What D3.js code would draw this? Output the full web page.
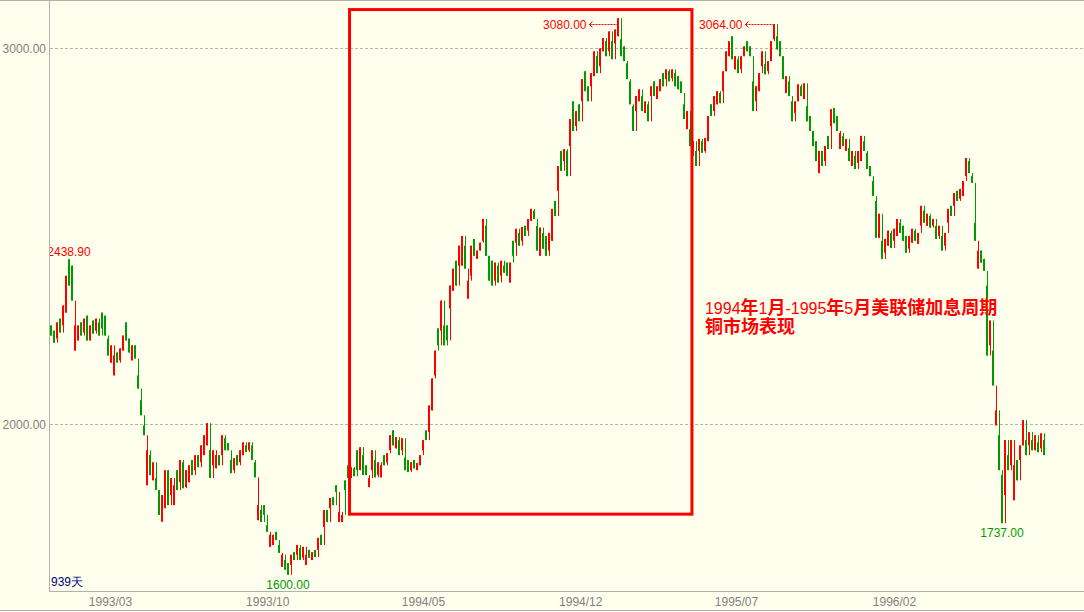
<!DOCTYPE html>
<html>
<head>
<meta charset="utf-8">
<script src="https://cdn.jsdelivr.net/npm/d3@7"></script>
<style>
    body { margin: 0; background: #ffffee; }
    svg { display: block; }
    .axis text { font-family: "Liberation Sans", Arial, sans-serif; font-size: 12px; fill: #808080; }
    .mark { font-family: "Liberation Sans", Arial, sans-serif; font-size: 12px; }
</style>
</head>
<body>
<div id="vis"></div>
<script>

// daily copper prices, sampled (open / close per bar)
var opens = [
    2263,2249,2228,2281,2263,2297,2438.9,2422,2196,2223,
    2271,2244,2289,2223,2276,2249,2271,2297,2289,2228,
    2164,2130,2191,2170,2196,2271,2228,2170,2210,2130,
    2064,1997,1838,1918,1851,1857,1825,1741,1777,1878,
    1812,1785,1878,1846,1899,1833,1846,1905,1878,1918,
    1899,1918,1944,1931,1891,1883,1918,1918,1963,1950,
    1905,1878,1918,1899,1918,1944,1931,1944,1899,1745,
    1772,1785,1732,1674,1679,1714,1679,1621,1639,1631,
    1626,1660,1653,1671,1645,1626,1666,1639,1666,1666,
    1706,1727,1772,1777,1806,1838,1740,1740,1851,1891,
    1859,1883,1931,1878,1918,1891,1833,1878,1905,1865,
    1859,1918,1899,1931,1984,1936,1958,1931,1912,1905,
    1878,1905,1878,1891,1931,1984,1979,2037,2130,2255,
    2249,2263,2263,2308,2355,2435,2422,2422,2475,2334,
    2395,2493,2440,2462,2488,2528,2448,2435,2382,2422,
    2395,2422,2430,2377,2488,2483,2509,2488,2528,2515,
    2541,2568,2528,2448,2509,2501,2462,2488,2594,2621,
    2727,2700,2727,2740,2859,2793,2851,2859,2939,2899,
    2899,2926,2979,2952,2992,3019,2992,3019,3013,3032,
    3024,3005,2960,2912,2846,2833,2859,2873,2828,2851,
    2873,2912,2865,2886,2934,2918,2939,2920,2934,2926,
    2912,2851,2785,2785,2714,2727,2727,2753,2727,2753,
    2851,2833,2851,2881,2886,2939,2979,3032,2944,2971,
    2944,2979,3019,3005,2912,2859,2886,2952,2958,2939,
    2966,3024,3032,3019,2979,2881,2912,2859,2828,2859,
    2899,2865,2846,2820,2780,2753,2668,2727,2700,2767,
    2793,2841,2820,2732,2767,2727,2735,2687,2714,2695,
    2700,2753,2722,2687,2647,2594,2496,2488,2456,2475,
    2509,2488,2501,2536,2528,2501,2467,2483,2515,2480,
    2528,2568,2528,2554,2528,2528,2501,2501,2475,2536,
    2581,2581,2621,2600,2607,2660,2700,2660,2536,2414,
    2462,2440,2369,2210,2196,1997,1971,1865,1812,1918,
    1891,1798,1905,1905,1944,1958,1944,1958,1931,1952,
    1936,1958
];

var closes = [
    2236,2217,2271,2244,2316,2395,2369,2329,2263,2263,
    2236,2281,2223,2263,2241,2281,2236,2255,2236,2183,
    2210,2183,2164,2202,2236,2223,2191,2210,2175,2095,
    2024,1971,1931,1865,1899,1825,1759,1812,1878,1785,
    1857,1838,1825,1905,1830,1878,1891,1865,1918,1886,
    1944,1971,2003,1857,1931,1918,1891,1971,1931,1931,
    1870,1910,1891,1931,1952,1926,1952,1905,1859,1785,
    1740,1759,1714,1706,1706,1692,1658,1653,1613,1600,
    1653,1639,1679,1639,1674,1653,1645,1660,1647,1698,
    1679,1772,1740,1804,1785,1820,1767,1759,1825,1857,
    1886,1862,1878,1939,1865,1865,1857,1931,1859,1899,
    1891,1891,1923,1971,1944,1966,1918,1963,1878,1873,
    1899,1883,1897,1918,1958,1958,2050,2122,2196,2210,
    2329,2210,2223,2369,2414,2369,2475,2501,2414,2382,
    2475,2448,2462,2483,2546,2448,2382,2369,2430,2377,
    2435,2403,2395,2430,2448,2520,2475,2525,2501,2546,
    2573,2546,2462,2523,2467,2448,2509,2573,2554,2687,
    2674,2732,2660,2812,2780,2833,2806,2918,2886,2859,
    2934,2992,2934,3000,3027,2979,3045,2971,3050,3080,
    2979,2966,2918,2851,2780,2873,2891,2833,2859,2806,
    2899,2873,2899,2918,2899,2944,2912,2944,2899,2891,
    2881,2812,2833,2740,2753,2687,2759,2722,2761,2820,
    2820,2873,2886,2854,2939,2992,3019,2971,2979,2934,
    2979,3005,2992,2979,2833,2899,2934,2992,2931,2966,
    3019,3064,2997,2979,2918,2926,2873,2806,2859,2904,
    2873,2907,2806,2780,2740,2700,2727,2687,2740,2732,
    2838,2801,2780,2775,2740,2759,2700,2727,2679,2727,
    2767,2727,2679,2660,2607,2496,2560,2440,2493,2515,
    2469,2520,2546,2509,2488,2456,2501,2520,2488,2509,
    2581,2536,2560,2523,2546,2493,2528,2462,2509,2573,
    2554,2615,2594,2626,2647,2708,2668,2642,2488,2462,
    2430,2408,2183,2276,2103,2037,1878,1737,1958,1878,
    1958,1891,1851,1944,2011,1918,1979,1931,1971,1926,
    1976,1918
];

var yTicks = [2000, 3000];
var xTickLabels = ['1993/03', '1993/10', '1994/05', '1994/12', '1995/07', '1996/02'];

var highMarks = [2438.90];          // label above the bar
var lowMarks = [1600.00, 1737.00];  // label below the bar
var peakMarks = [3080.00, 3064.00]; // label with arrow at the top

var boxDates = ['1994/01/21', '1995/05/02'];
var boxPrices = [3103, 1761];
var noteLines = ['1994年1月-1995年5月美联储加息周期', '铜市场表现'];
var dayCount = '939天';

var width = 1084;
var height = 612;

var plot = {
    left: 49,
    top: 0,
    right: 1084,
    bottom: 591
};

var svg = d3.select('#vis')
    .append('svg')
    .attr('width', width)
    .attr('height', height);

svg.append('rect')
    .attr('width', width)
    .attr('height', height)
    .attr('fill', '#ffffee');

var parse = d3.timeParse('%Y/%m');
var parseDay = d3.timeParse('%Y/%m/%d');

var xScale = d3.scaleLinear()
    .domain([0, closes.length - 1])
    .range([51, 1044]);

var yScale = d3.scaleLinear()
    .domain([2000, 3000])
    .range([424.3, 48.3]);

var tScale = d3.scaleTime()
    .domain([parse('1993/03'), parse('1996/02')])
    .range([110, 894]);

svg.append('defs').append('clipPath')
    .attr('id', 'clip')
    .append('rect')
    .attr('x', plot.left + 1)
    .attr('y', plot.top + 1)
    .attr('width', plot.right - plot.left - 1)
    .attr('height', plot.bottom - plot.top - 1);

// grid
svg.selectAll('.grid')
    .data(yTicks)
    .enter().append('line')
    .attr('class', 'grid')
    .attr('x1', plot.left + 1)
    .attr('x2', plot.right)
    .attr('y1', function(d) { return Math.round(yScale(d)) + 0.5; })
    .attr('y2', function(d) { return Math.round(yScale(d)) + 0.5; })
    .attr('stroke', '#b4b4b4')
    .attr('stroke-dasharray', '3,2');

// frame lines
var frame = [
    [0, 0.5, width, 0.5],
    [plot.left + 0.5, 0, plot.left + 0.5, plot.bottom],
    [plot.left, plot.bottom + 0.5, width, plot.bottom + 0.5],
    [0, 610.5, width, 610.5]
];
svg.selectAll('.frame')
    .data(frame)
    .enter().append('line')
    .attr('x1', function(d) { return d[0]; })
    .attr('y1', function(d) { return d[1]; })
    .attr('x2', function(d) { return d[2]; })
    .attr('y2', function(d) { return d[3]; })
    .attr('stroke', '#b0b0b0');

var yAxis = d3.axisLeft(yScale)
    .tickValues(yTicks)
    .tickFormat(d3.format('.2f'))
    .tickSize(0)
    .tickPadding(3);

var yAxisLabel = svg.append('g')
    .attr('class', 'axis')
    .attr('transform', 'translate(' + plot.left + ',0)')
    .call(yAxis);
yAxisLabel.select('.domain').remove();

var xAxis = d3.axisBottom(tScale)
    .tickValues(xTickLabels.map(parse))
    .tickFormat(d3.timeFormat('%Y/%m'))
    .tickSize(0)
    .tickPadding(6);

var xAxisLabel = svg.append('g')
    .attr('class', 'axis')
    .attr('transform', 'translate(0,' + plot.bottom + ')')
    .call(xAxis);
xAxisLabel.select('.domain').remove();

// candles
var bars = d3.range(closes.length).map(function(i) {
    return {i: i, o: opens[i], c: closes[i], p: i > 0 ? closes[i - 1] : opens[i]};
});

var colour = function(d) {
    if (d.c > d.o) return '#ff0000';
    if (d.c < d.o) return '#009a00';
    return '#000000';
};

var g = svg.append('g').attr('clip-path', 'url(#clip)');

// thin line bridging the gap from the previous close
g.selectAll('.wick')
    .data(bars)
    .enter().append('line')
    .attr('class', 'wick')
    .attr('x1', function(d) { return Math.round(xScale(d.i)) + 0.5; })
    .attr('x2', function(d) { return Math.round(xScale(d.i)) + 0.5; })
    .attr('y1', function(d) { return yScale(Math.max(d.o, d.c, d.p)); })
    .attr('y2', function(d) { return yScale(Math.min(d.o, d.c, d.p)); })
    .attr('stroke', colour);

g.selectAll('.bar')
    .data(bars)
    .enter().append('rect')
    .attr('class', 'bar')
    .attr('x', function(d) { return Math.round(xScale(d.i)) - 1; })
    .attr('width', 2)
    .attr('y', function(d) { return yScale(Math.max(d.o, d.c)); })
    .attr('height', function(d) { return Math.max(1, Math.abs(yScale(d.o) - yScale(d.c))); })
    .attr('fill', colour);

var findBar = function(v, hi) {
    return bars.filter(function(d) {
        return hi ? Math.max(d.o, d.c) === v : Math.min(d.o, d.c) === v;
    })[0];
};

// extreme labels
g.selectAll('.hiMark')
    .data(highMarks)
    .enter().append('text')
    .attr('class', 'mark')
    .attr('x', function(d) { return xScale(findBar(d, true).i); })
    .attr('y', function(d) { return yScale(d) - 3; })
    .attr('text-anchor', 'middle')
    .attr('fill', '#ff0000')
    .text(function(d) { return d3.format('.2f')(d); });

g.selectAll('.loMark')
    .data(lowMarks)
    .enter().append('text')
    .attr('class', 'mark')
    .attr('x', function(d) { return xScale(findBar(d, false).i); })
    .attr('y', function(d) { return yScale(d) + 14; })
    .attr('text-anchor', 'middle')
    .attr('fill', '#009a00')
    .text(function(d) { return d3.format('.2f')(d); });

peakMarks.forEach(function(v) {
    var bx = Math.round(xScale(findBar(v, true).i)) + 0.5;
    var by = Math.max(yScale(v), yScale(3064));
    var ay = Math.round(by) + 0.5;
    g.append('text')
        .attr('class', 'mark')
        .attr('x', bx - 32)
        .attr('y', ay + 4.5)
        .attr('text-anchor', 'end')
        .attr('fill', '#ff0000')
        .text(d3.format('.2f')(v));
    g.append('path')
        .attr('d', 'M' + (bx - 26) + ',' + (ay - 3) + 'L' + (bx - 29) + ',' + ay + 'L' + (bx - 26) + ',' + (ay + 3))
        .attr('fill', 'none')
        .attr('stroke', '#ff0000');
    g.append('line')
        .attr('x1', bx - 29).attr('x2', bx)
        .attr('y1', ay).attr('y2', ay)
        .attr('stroke', '#ff0000')
        .attr('stroke-dasharray', '2,1');
    g.append('line')
        .attr('x1', bx).attr('x2', bx)
        .attr('y1', yScale(v)).attr('y2', ay)
        .attr('stroke', '#ff0000')
        .attr('stroke-dasharray', '2,1');
});

// rate hike period box
var bx0 = tScale(parseDay(boxDates[0]));
var bx1 = tScale(parseDay(boxDates[1]));
svg.append('rect')
    .attr('x', bx0)
    .attr('y', yScale(boxPrices[0]))
    .attr('width', bx1 - bx0)
    .attr('height', yScale(boxPrices[1]) - yScale(boxPrices[0]))
    .attr('fill', 'none')
    .attr('stroke', '#ff0000')
    .attr('stroke-width', 3);

noteLines.forEach(function(line, k) {
    var note = svg.append('text')
        .attr('x', bx1 + 13)
        .attr('y', 314 + k * 19)
        .attr('fill', '#ff0000');
    var runs = line.match(/[\x00-\x7f]+|[^\x00-\x7f]+/g);
    runs.forEach(function(r) {
        var t = note.append('tspan').text(r);
        if (/^[\x00-\x7f]+$/.test(r)) {
            t.style('font-family', '"Liberation Sans", Arial, sans-serif')
             .style('font-size', '16px');
        } else {
            t.style('font-family', '"Noto Sans CJK SC", sans-serif')
             .style('font-size', '18px')
             .style('font-weight', 'bold');
        }
    });
});

svg.append('text')
    .attr('class', 'mark')
    .attr('x', plot.left + 2)
    .attr('y', 586)
    .attr('fill', '#000080')
    .text(dayCount);

</script>
</body>
</html>
